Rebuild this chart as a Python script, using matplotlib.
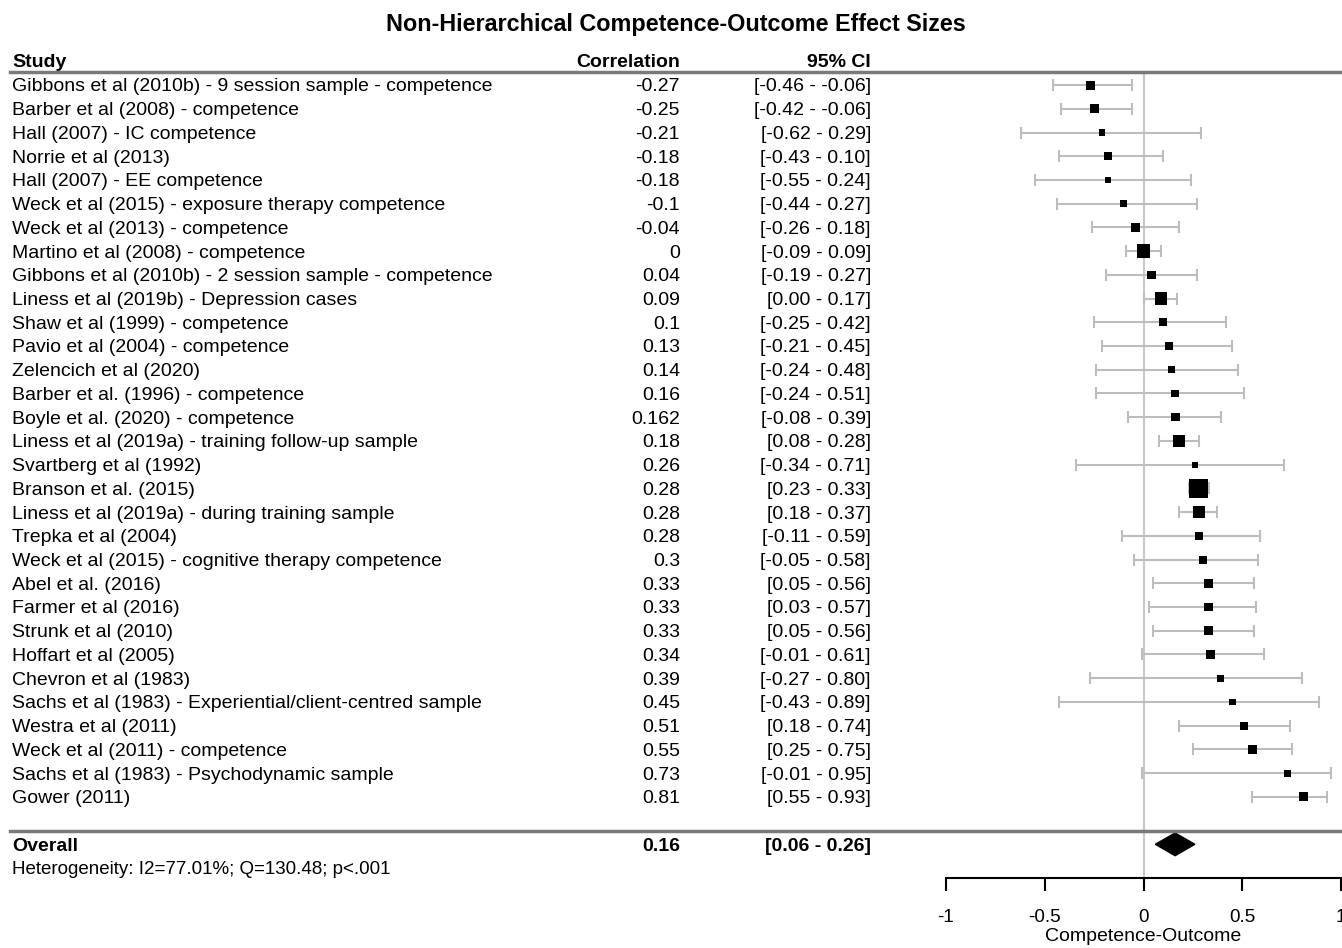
import matplotlib
matplotlib.use("Agg")
import matplotlib.pyplot as plt
import numpy as np
from matplotlib.transforms import blended_transform_factory
from matplotlib.patches import Polygon

plt.rcParams['font.family'] = ['Liberation Sans', 'DejaVu Sans']

# Study-level effect sizes
studies = [
    "Gibbons et al (2010b) - 9 session sample - competence",
    "Barber et al (2008) - competence",
    "Hall (2007) - IC competence",
    "Norrie et al (2013)",
    "Hall (2007) - EE competence",
    "Weck et al (2015) - exposure therapy competence",
    "Weck et al (2013) - competence",
    "Martino et al (2008) - competence",
    "Gibbons et al (2010b) - 2 session sample - competence",
    "Liness et al (2019b) - Depression cases",
    "Shaw et al (1999) - competence",
    "Pavio et al (2004) - competence",
    "Zelencich et al (2020)",
    "Barber et al. (1996) - competence",
    "Boyle et al. (2020) - competence",
    "Liness et al (2019a) - training follow-up sample",
    "Svartberg et al (1992)",
    "Branson et al. (2015)",
    "Liness et al (2019a) - during training sample",
    "Trepka et al (2004)",
    "Weck et al (2015) - cognitive therapy competence",
    "Abel et al. (2016)",
    "Farmer et al (2016)",
    "Strunk et al (2010)",
    "Hoffart et al (2005)",
    "Chevron et al (1983)",
    "Sachs et al (1983) - Experiential/client-centred sample",
    "Westra et al (2011)",
    "Weck et al (2011) - competence",
    "Sachs et al (1983) - Psychodynamic sample",
    "Gower (2011)",
]
corr = [-0.27, -0.25, -0.21, -0.18, -0.18, -0.1, -0.04, 0, 0.04, 0.09,
        0.1, 0.13, 0.14, 0.16, 0.162, 0.18, 0.26, 0.28, 0.28, 0.28,
        0.3, 0.33, 0.33, 0.33, 0.34, 0.39, 0.45, 0.51, 0.55, 0.73, 0.81]
ci_low = [-0.46, -0.42, -0.62, -0.43, -0.55, -0.44, -0.26, -0.09, -0.19, 0.00,
          -0.25, -0.21, -0.24, -0.24, -0.08, 0.08, -0.34, 0.23, 0.18, -0.11,
          -0.05, 0.05, 0.03, 0.05, -0.01, -0.27, -0.43, 0.18, 0.25, -0.01, 0.55]
ci_high = [-0.06, -0.06, 0.29, 0.10, 0.24, 0.27, 0.18, 0.09, 0.27, 0.17,
           0.42, 0.45, 0.48, 0.51, 0.39, 0.28, 0.71, 0.33, 0.37, 0.59,
           0.58, 0.56, 0.57, 0.56, 0.61, 0.80, 0.89, 0.74, 0.75, 0.95, 0.93]
# relative study weights (%)
weights = [3.1, 3.1, 1.7, 2.4, 1.7, 2.0, 2.7, 6.9, 2.7, 5.8,
           2.4, 2.4, 2.0, 2.4, 2.7, 4.8, 1.4, 13.9, 5.8, 2.4,
           2.4, 3.1, 2.7, 3.1, 2.7, 1.7, 1.7, 2.4, 3.1, 2.0, 3.1]

overall = 0.16
overall_low = 0.06
overall_high = 0.26
heterogeneity = "Heterogeneity: I2=77.01%; Q=130.48; p<.001"

n = len(studies)
rows = np.arange(n)
overall_row = n + 1

fig = plt.figure(figsize=(13.42, 9.48), dpi=100)
W, H = 1342.0, 948.0
ax = fig.add_axes([946 / W, 1 - 878 / H, (1341 - 946) / W, (878 - 72) / H])
ax.set_xlim(-1, 1)
ax.set_ylim(33.42, -0.55)

# reference line at zero
ax.axvline(0, color='#c8c8c8', lw=1.5, zorder=1)

# confidence intervals with end caps
ax.errorbar(corr, rows, xerr=[np.array(corr) - np.array(ci_low),
                              np.array(ci_high) - np.array(corr)],
            fmt='none', ecolor='#bdbdbd', elinewidth=1.5, capsize=4,
            capthick=1.5, zorder=2)

# point estimates sized by weight
side_px = 5.1 * np.sqrt(weights)
side_pt = side_px * 72 / 100
ax.scatter(corr, rows, s=side_pt ** 2, marker='s', color='black',
           linewidths=0, zorder=3)

# pooled estimate diamond
diamond = Polygon([[overall_low, overall_row], [overall, overall_row - 0.48],
                   [overall_high, overall_row], [overall, overall_row + 0.48]],
                  closed=True, color='black', zorder=3)
ax.add_patch(diamond)

for side in ['top', 'left', 'right']:
    ax.spines[side].set_visible(False)
ax.spines['bottom'].set_linewidth(1.5)
ax.set_yticks([])
ax.set_xticks([-1, -0.5, 0, 0.5, 1])
ax.set_xticklabels(['-1', '-0.5', '0', '0.5', '1'])
ax.tick_params(axis='x', length=9, width=1.5, pad=13, labelsize=13.5)
ax.set_xlabel("Competence-Outcome", fontsize=14, labelpad=2)

# text columns
tr = blended_transform_factory(fig.transFigure, ax.transData)
x_study, x_corr, x_ci = 12 / W, 680 / W, 871 / W
fs = 14
dy = 0.08  # nudge so the text sits level with the markers

fig.text(0.504, 1 - 25 / H, "Non-Hierarchical Competence-Outcome Effect Sizes",
         ha='center', va='center', fontsize=16.8, fontweight='bold')

ax.text(x_study, -0.97, "Study", transform=tr, ha='left', va='center',
        fontsize=fs, fontweight='bold')
ax.text(x_corr, -0.97, "Correlation", transform=tr, ha='right', va='center',
        fontsize=fs, fontweight='bold')
ax.text(x_ci, -0.97, "95% CI", transform=tr, ha='right', va='center',
        fontsize=fs, fontweight='bold')

for i in range(n):
    ax.text(x_study, rows[i] + dy, studies[i], transform=tr, ha='left',
            va='center', fontsize=fs)
    ax.text(x_corr, rows[i] + dy, f"{corr[i]:g}", transform=tr, ha='right',
            va='center', fontsize=fs)
    ax.text(x_ci, rows[i] + dy, f"[{ci_low[i]:.2f} - {ci_high[i]:.2f}]",
            transform=tr, ha='right', va='center', fontsize=fs)

ax.text(x_study, overall_row + dy, "Overall", transform=tr, ha='left',
        va='center', fontsize=fs, fontweight='bold')
ax.text(x_corr, overall_row + dy, f"{overall:g}", transform=tr, ha='right',
        va='center', fontsize=fs, fontweight='bold')
ax.text(x_ci, overall_row + dy, f"[{overall_low:.2f} - {overall_high:.2f}]",
        transform=tr, ha='right', va='center', fontsize=fs, fontweight='bold')
ax.text(x_study, overall_row + 1.0 + dy, heterogeneity, transform=tr,
        ha='left', va='center', fontsize=13.5)

# separator lines under the header and above the pooled row
for yy in [-0.55, n + 0.44]:
    ax.plot([10 / W, 1.0], [yy, yy], transform=tr, color='#7a7a7a', lw=2.5,
            clip_on=False, zorder=4)

fig.savefig("out.png", dpi=100)
